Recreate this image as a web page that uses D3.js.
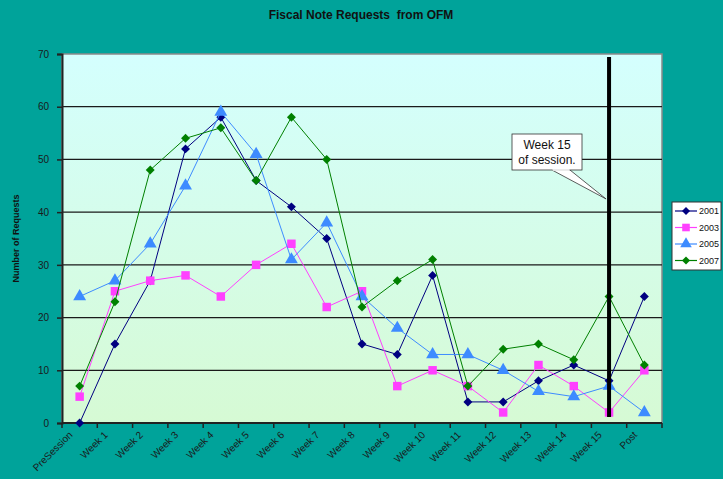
<!DOCTYPE html>
<html>
<head>
<meta charset="utf-8">
<script src="https://cdn.jsdelivr.net/npm/d3@7"></script>
<style>
  body { margin: 0; background: #00A39A; }
  svg { display: block; font-family: "Liberation Sans", Arial, sans-serif; }
</style>
</head>
<body>
<svg id="chart" width="723" height="479"></svg>
<script>
var categories = ["PreSession", "Week 1", "Week 2", "Week 3", "Week 4", "Week 5", "Week 6", "Week 7",
  "Week 8", "Week 9", "Week 10", "Week 11", "Week 12", "Week 13", "Week 14", "Week 15", "Post"];

var years = ["2001", "2003", "2005", "2007"];
var v2001 = [0, 15, 27, 52, 58, 46, 41, 35, 15, 13, 28, 4, 4, 8, 11, 8, 24];
var v2003 = [5, 25, 27, 28, 24, 30, 34, 22, 25, 7, 10, 7, 2, 11, 7, 2, 10];
var v2005 = [24, 27, 34, 45, 59, 51, 31, 38, 24, 18, 13, 13, 10, 6, 5, 7, 2];
var v2007 = [7, 23, 48, 54, 56, 46, 58, 50, 22, 27, 31, 7, 14, 15, 12, 24, 11];
var yTicks = [0, 10, 20, 30, 40, 50, 60, 70];
var sessionEnd = "Week 15";

// square diamond (d3.symbolDiamond is too tall for the Excel marker)
var squareDiamond = {
  draw: function(ctx, size) {
    var r = Math.sqrt(size / 2);
    ctx.moveTo(0, -r); ctx.lineTo(r, 0); ctx.lineTo(0, r); ctx.lineTo(-r, 0); ctx.closePath();
  }
};

var series = [
  {name: "2001", values: v2001, color: "#000080", shape: squareDiamond, size: 40},
  {name: "2003", values: v2003, color: "#FF40FF", shape: d3.symbolSquare, size: 72},
  {name: "2005", values: v2005, color: "#3D8BFF", shape: d3.symbolTriangle, size: 72},
  {name: "2007", values: v2007, color: "#008000", shape: squareDiamond, size: 40}
];

var svg = d3.select("#chart"),
    margin = {top: 54, right: 61, bottom: 56, left: 62},
    width = +svg.attr("width") - margin.left - margin.right,
    height = +svg.attr("height") - margin.top - margin.bottom;

var x = d3.scaleBand().domain(categories).range([0, width]).padding(0),
    y = d3.scaleLinear().domain([0, 70]).range([height, 0]);
var cx = function(c) { return x(c) + x.bandwidth() / 2; };

// plot background gradient
var grad = svg.append("defs").append("linearGradient")
    .attr("id", "bg").attr("x1", 0).attr("y1", 0).attr("x2", 0).attr("y2", 1);
grad.append("stop").attr("offset", "0%").attr("stop-color", "#D4FFFE");
grad.append("stop").attr("offset", "100%").attr("stop-color", "#D6FAD4");

svg.append("text")
    .attr("x", 361).attr("y", 19)
    .attr("text-anchor", "middle")
    .style("white-space", "pre")
    .style("font-size", "12px").style("font-weight", "bold").style("fill", "#111")
    .text("Fiscal Note Requests  from OFM");

var g = svg.append("g")
    .attr("transform", "translate(" + margin.left + "," + margin.top + ")");

g.append("rect")
    .attr("width", width).attr("height", height)
    .attr("fill", "url(#bg)")
    .attr("stroke", "#8a8a8a").attr("stroke-width", 1.5);

// gridlines
g.selectAll(".grid")
  .data(yTicks.filter(function(d) { return d > 0 && d < 70; }))
  .enter().append("line")
    .attr("x1", 0).attr("x2", width)
    .attr("y1", function(d) { return y(d); })
    .attr("y2", function(d) { return y(d); })
    .attr("stroke", "#1a1a1a").attr("stroke-width", 1.3);

// y axis
var yAxis = g.append("g")
    .call(d3.axisLeft(y).tickValues(yTicks).tickSize(5).tickPadding(8));
yAxis.select(".domain").attr("stroke", "#222").attr("stroke-width", 2);
yAxis.selectAll("line").attr("stroke", "#222").attr("stroke-width", 1.5);
yAxis.selectAll("text").style("font-size", "10px").style("fill", "#1a1a1a")
    .style("font-family", "Liberation Sans, Arial, sans-serif");

svg.append("text")
    .attr("transform", "translate(19," + (margin.top + height / 2) + ") rotate(-90)")
    .attr("text-anchor", "middle")
    .style("font-size", "9px").style("font-weight", "bold").style("fill", "#111")
    .text("Number of Requests");

// x axis: ticks at band boundaries
var xAxis = g.append("g").attr("transform", "translate(0," + height + ")");
xAxis.append("line").attr("x1", 0).attr("x2", width)
    .attr("stroke", "#222").attr("stroke-width", 2);
xAxis.selectAll(".xt")
  .data(categories.concat(["__end"]))
  .enter().append("line")
    .attr("x1", function(d, i) { return i * x.bandwidth(); })
    .attr("x2", function(d, i) { return i * x.bandwidth(); })
    .attr("y1", 0).attr("y2", 5)
    .attr("stroke", "#222").attr("stroke-width", 1.5);
xAxis.selectAll(".xl")
  .data(categories)
  .enter().append("text")
    .attr("transform", function(d) { return "translate(" + (cx(d) - 9) + ",10) rotate(-45)"; })
    .attr("text-anchor", "end")
    .attr("dy", "0.35em")
    .style("font-size", "10px").style("fill", "#1a1a1a")
    .text(function(d) { return d; });

// series
series.forEach(function(s) {
  var pts = categories.map(function(c, i) { return [cx(c), y(s.values[i])]; });
  g.append("path")
      .attr("d", d3.line()(pts))
      .attr("fill", "none").attr("stroke", s.color).attr("stroke-width", 1);
  g.selectAll(null)
    .data(pts)
    .enter().append("path")
      .attr("transform", function(d) { return "translate(" + d[0] + "," + d[1] + ")"; })
      .attr("d", d3.symbol().type(s.shape).size(s.size))
      .attr("fill", s.color);
});

// end of session marker
var sx = cx(sessionEnd);
g.append("line")
    .attr("x1", sx).attr("x2", sx)
    .attr("y1", 3).attr("y2", height - 6)
    .attr("stroke", "#000").attr("stroke-width", 4);

// callout
var bx = 512 - margin.left, by = 134 - margin.top, bw = 70, bh = 36;
g.append("path")
    .attr("d", "M" + (bx + 40) + "," + (by + bh) + " L" + (sx - 3) + "," + y(42.5) +
               " L" + (bx + 58) + "," + (by + bh))
    .attr("fill", "#fff").attr("stroke", "#333").attr("stroke-width", 0.8);
g.append("rect")
    .attr("x", bx).attr("y", by).attr("width", bw).attr("height", bh)
    .attr("fill", "#fff").attr("stroke", "#333").attr("stroke-width", 0.8);
g.append("line")
    .attr("x1", bx + 40.5).attr("x2", bx + 57.5)
    .attr("y1", by + bh).attr("y2", by + bh)
    .attr("stroke", "#fff").attr("stroke-width", 1.5);
g.append("text").attr("x", bx + bw / 2).attr("y", by + 15)
    .attr("text-anchor", "middle").style("font-size", "12px").style("fill", "#111")
    .text("Week 15");
g.append("text").attr("x", bx + bw / 2).attr("y", by + 30)
    .attr("text-anchor", "middle").style("font-size", "12px").style("fill", "#111")
    .text("of session.");

// legend
var leg = svg.append("g").attr("transform", "translate(672,202)");
leg.append("rect").attr("width", 49).attr("height", 68)
    .attr("fill", "#fff").attr("stroke", "#333").attr("stroke-width", 1);
series.forEach(function(s, i) {
  var ly = 9 + i * 16.5;
  leg.append("line").attr("x1", 3).attr("x2", 25).attr("y1", ly).attr("y2", ly)
      .attr("stroke", s.color).attr("stroke-width", 1.2);
  leg.append("path").attr("transform", "translate(14," + ly + ")")
      .attr("d", d3.symbol().type(s.shape).size(s.size * 0.8))
      .attr("fill", s.color);
  leg.append("text").attr("x", 27).attr("y", ly + 3)
      .style("font-size", "9px").style("fill", "#111")
      .text(s.name);
});
</script>
</body>
</html>
